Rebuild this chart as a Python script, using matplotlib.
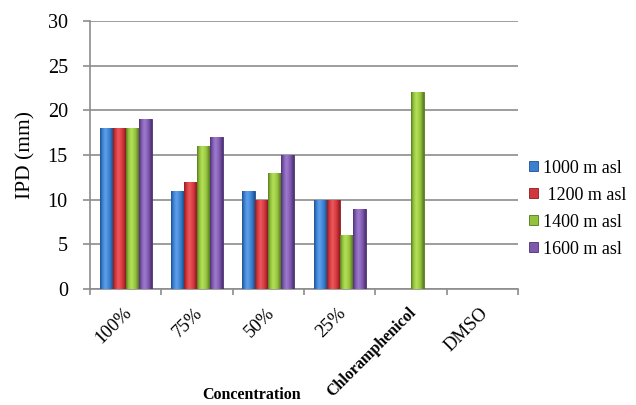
import numpy as np
import matplotlib
matplotlib.use("Agg")
import matplotlib.pyplot as plt
from matplotlib.colors import LinearSegmentedColormap

categories = ["100%", "75%", "50%", "25%", "Chloramphenicol", "DMSO"]
series_names = ["1000 m asl", " 1200 m asl", "1400 m asl", "1600 m asl"]
v1000 = [18, 11, 11, 10, 0, 0]
v1200 = [18, 12, 10, 10, 0, 0]
v1400 = [18, 16, 13, 6, 22, 0]
v1600 = [19, 17, 15, 9, 0, 0]
yticks = [0, 5, 10, 15, 20, 25, 30]

colors = ["#3a80d2", "#d3363c", "#93c23c", "#7d58ad"]
lights = ["#5fa2ea", "#ec5a5e", "#b5e05a", "#a07cd0"]
edges = ["#1f4f8a", "#8a1c20", "#55761e", "#4b2f70"]

plt.rcParams["font.family"] = ["Liberation Serif", "DejaVu Serif"]

fig = plt.figure(figsize=(6.36, 4.05), dpi=100)
ax = fig.add_axes([0.1415, 0.2864, 0.673, 0.6617])

x = np.arange(len(categories))
w = 0.182
series = [v1000, v1200, v1400, v1600]
grad = np.linspace(0, 1, 64).reshape(1, -1)
for i, (vals, name) in enumerate(zip(series, series_names)):
    vals = np.asarray(vals, dtype=float)
    mask = vals > 0
    offs = (i - 1.5) * w
    cmap = LinearSegmentedColormap.from_list(
        "shade%d" % i,
        [(0.0, edges[i]), (0.18, colors[i]), (0.42, lights[i]),
         (0.75, colors[i]), (1.0, edges[i])])
    bars = ax.bar(x[mask] + offs, vals[mask], width=w, color=colors[i],
                  edgecolor=edges[i], linewidth=0.6, zorder=3)
    for b in bars:
        x0, y0 = b.get_x(), b.get_y()
        im = ax.imshow(grad, cmap=cmap, aspect="auto", interpolation="bicubic",
                       extent=(x0, x0 + b.get_width(), y0, y0 + b.get_height()),
                       zorder=3.5)
        im.set_clip_path(b)
    ax.bar([np.nan], [np.nan], width=w, color=colors[i], edgecolor=edges[i],
           linewidth=0.6, label=name)

ax.set_xlim(-0.5, len(categories) - 0.5)
ax.set_ylim(0, 30)
ax.set_yticks(yticks)
ax.set_yticklabels([str(t) for t in yticks], fontsize=14.5)
ax.yaxis.grid(True, color="#8c8c8c", linewidth=1.2, zorder=0)
ax.set_axisbelow(True)

for s in ["top", "right"]:
    ax.spines[s].set_visible(False)
for s in ["left", "bottom"]:
    ax.spines[s].set_color("#8c8c8c")
    ax.spines[s].set_linewidth(1.2)

ax.tick_params(axis="y", length=5, color="#8c8c8c", width=1.2, pad=11)
ax.set_xticks(np.arange(len(categories) + 1) - 0.5)
ax.set_xticklabels([])
ax.tick_params(axis="x", length=4, color="#8c8c8c", width=1.2)

# rotated category labels under each slot
for xi, lab in zip(x, categories):
    bold = lab == "Chloramphenicol"
    ax.annotate(lab, xy=(xi, 0), xycoords=("data", "axes fraction"),
                xytext=(-2, -11), textcoords="offset points",
                rotation=45, ha="right", va="top",
                fontsize=11.5 if bold else 13.5,
                fontweight="bold" if bold else "normal",
                rotation_mode="anchor")

ax.set_ylabel("IPD (mm)", fontsize=15.5)
ax.yaxis.set_label_coords(-0.128, 0.5)
fig.text(0.396, 0.024, "Concentration", fontsize=11.5, fontweight="bold",
         ha="center", va="center")

leg = ax.legend(loc="center left", bbox_to_anchor=(1.0, 0.30), frameon=False,
                fontsize=13, handlelength=0.5, handleheight=0.5,
                handletextpad=0.3, labelspacing=0.55, borderaxespad=0.2)

fig.savefig("out.png", dpi=100)
